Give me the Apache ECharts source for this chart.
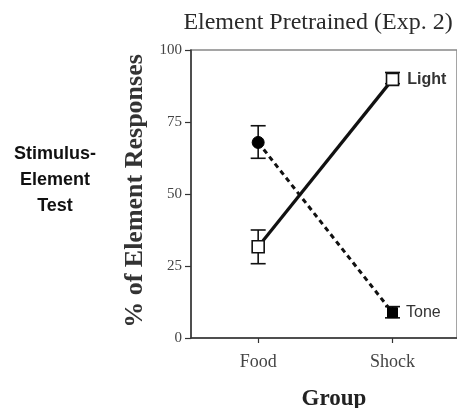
<!DOCTYPE html>
<html><head><meta charset="utf-8">
<script src="https://cdn.jsdelivr.net/npm/echarts@6/dist/echarts.min.js"></script>
<style>html,body{margin:0;padding:0;background:#fff}#c{width:457px;height:408px}</style>
</head><body><div id="c"></div>
<script>
const groups = ['Food', 'Shock'];
const lightMean = [31.7, 89.8];
const lightLow = [25.8, 88.3];
const lightHigh = [37.5, 92.2];
const toneMean = [67.9, 8.8];
const toneLow = [62.4, 7.0];
const toneHigh = [73.7, 10.9];
const yTicks = [0, 25, 50, 75, 100];

const xPos = groups.map((g, i) => i + 1);

function errRender(params, api) {
  const x = api.value(0), lo = api.value(1), hi = api.value(2);
  const pLo = api.coord([x, lo]), pHi = api.coord([x, hi]);
  const w = 7.5;
  const st = { stroke: '#111', lineWidth: 1.6 };
  return {
    type: 'group',
    children: [
      { type: 'line', shape: { x1: pLo[0], y1: pLo[1], x2: pHi[0], y2: pHi[1] }, style: st },
      { type: 'line', shape: { x1: pLo[0] - w, y1: pLo[1], x2: pLo[0] + w, y2: pLo[1] }, style: st },
      { type: 'line', shape: { x1: pHi[0] - w, y1: pHi[1], x2: pHi[0] + w, y2: pHi[1] }, style: st }
    ]
  };
}

const chart = echarts.init(document.getElementById('c'), null, { renderer: 'canvas' });
chart.setOption({
  animation: false,
  backgroundColor: '#fff',
  title: {
    text: 'Element Pretrained (Exp. 2)',
    left: 313, top: 6, textAlign: 'center',
    textStyle: { fontFamily: 'Liberation Serif', fontSize: 24, fontWeight: 'normal', color: '#2a2a2a' }
  },
  grid: { left: 191, right: 0, top: 50, bottom: 70, show: true, borderColor: '#888', borderWidth: 1.5,
    backgroundColor: 'transparent', containLabel: false, outerBoundsMode: 'none' },
  graphic: [{
    type: 'text', x: 55, y: 141,
    style: {
      text: 'Stimulus-\nElement\nTest', align: 'center', verticalAlign: 'top',
      font: 'bold 18px "Liberation Sans"', lineHeight: 26, fill: '#111'
    }
  }],
  xAxis: {
    type: 'value', min: 0.5, max: 2.48,
    axisLine: { show: true, lineStyle: { color: '#333', width: 1.5 } },
    axisTick: { show: true, customValues: xPos, length: 5, lineStyle: { color: '#333', width: 1.2 } },
    axisLabel: {
      customValues: xPos, margin: 15,
      formatter: v => groups[Math.round(v) - 1],
      fontFamily: 'Liberation Serif', fontSize: 18, color: '#444'
    },
    splitLine: { show: false },
    name: 'Group', nameLocation: 'middle', nameGap: 50,
    nameTextStyle: { fontFamily: 'Liberation Serif', fontSize: 23, fontWeight: 'bold', color: '#222', padding: [0, 0, 0, 20] }
  },
  yAxis: {
    type: 'value', min: 0, max: 100, interval: 25,
    axisLine: { show: true, lineStyle: { color: '#333', width: 1.5 } },
    axisTick: { show: true, length: 6, lineStyle: { color: '#333', width: 1.2 } },
    axisLabel: {
      margin: 9, formatter: v => String(yTicks[yTicks.indexOf(v)]),
      fontFamily: 'Liberation Serif', fontSize: 15, color: '#444'
    },
    splitLine: { show: false },
    name: '% of Element Responses', nameLocation: 'middle', nameGap: 43,
    nameTextStyle: { fontFamily: 'Liberation Serif', fontSize: 26, fontWeight: 'bold', color: '#333', padding: [0, 0, 0, 6] }
  },
  series: [
    {
      type: 'custom', name: 'LightErr', z: 1,
      renderItem: errRender,
      data: xPos.map((x, i) => [x, lightLow[i], lightHigh[i]])
    },
    {
      type: 'custom', name: 'ToneErr', z: 1,
      renderItem: errRender,
      data: xPos.map((x, i) => [x, toneLow[i], toneHigh[i]])
    },
    {
      type: 'line', name: 'Tone', z: 3,
      data: xPos.map((x, i) => {
        const d = { value: [x, toneMean[i]] };
        if (i === xPos.length - 1) {
          d.symbol = 'rect'; d.symbolSize = 10;
          d.label = { show: true, position: 'right', distance: 8, formatter: 'Tone',
            fontFamily: 'Liberation Sans', fontSize: 16, color: '#333' };
        }
        return d;
      }),
      symbol: 'circle', symbolSize: 12,
      itemStyle: { color: '#000', borderColor: '#000' },
      lineStyle: { color: '#111', width: 3, type: [5, 4] }
    },
    {
      type: 'line', name: 'Light', z: 4,
      data: xPos.map((x, i) => {
        const d = { value: [x, lightMean[i]] };
        if (i === xPos.length - 1) {
          d.label = { show: true, position: 'right', distance: 8, formatter: 'Light',
            fontFamily: 'Liberation Sans', fontSize: 16, fontWeight: 'bold', color: '#333' };
        }
        return d;
      }),
      symbol: 'rect', symbolSize: 12,
      itemStyle: { color: '#fff', borderColor: '#111', borderWidth: 1.6 },
      lineStyle: { color: '#111', width: 3.2 }
    }
  ]
});
</script>
</body></html>
